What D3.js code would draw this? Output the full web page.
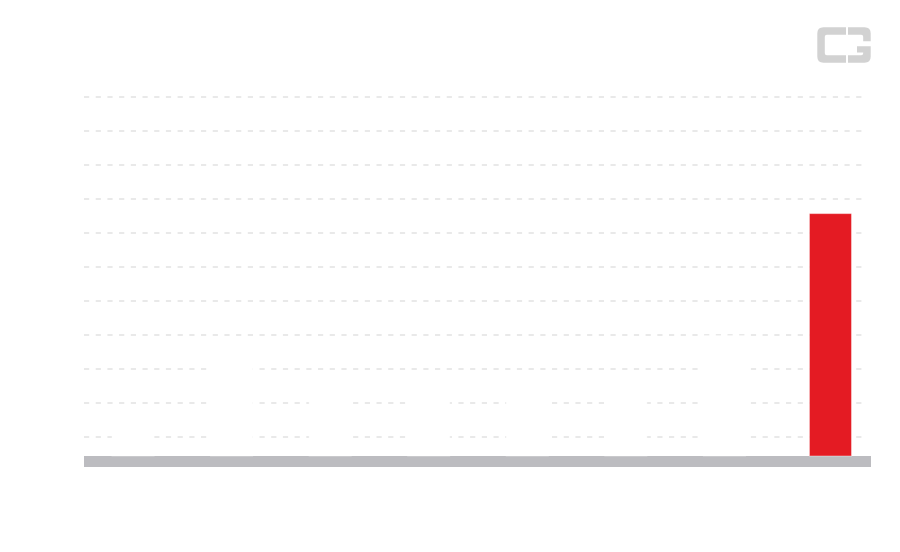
<!DOCTYPE html>
<html>
<head>
<meta charset="utf-8">
<script src="https://cdn.jsdelivr.net/npm/d3@7"></script>
<style>
  body { margin: 0; background: #fff; }
</style>
</head>
<body>
<div id="chart"></div>
<script>
// categories and values (chart has no labels, only the bars)
const categories = ['c1', 'c2', 'c3', 'c4', 'c5', 'c6', 'c7', 'c8']
const values = [1.5, 3.5, 2.5, 2.4, 2.6, 2.5, 3.98, 7.57]
const highlight = 'c8'
const gridTicks = [1, 2, 3, 4, 5, 6, 7, 8, 9, 10, 11]

const W = 900, H = 552
const svg = d3.select('#chart').append('svg')
    .attr('width', W)
    .attr('height', H)

const x = d3.scaleBand()
    .domain(categories)
    .range([84, 872])
    .paddingInner(0.5736)
    .paddingOuter(0.2843)

const y = d3.scaleLinear()
    .domain([0, 11])
    .range([471, 97])

// dashed grid
svg.append('g')
    .selectAll('line').data(gridTicks)
    .enter()
    .append('line')
    .attr('x1', 84)
    .attr('x2', 867)
    .attr('y1', d => y(d))
    .attr('y2', d => y(d))
    .attr('stroke', '#e2e2e2')
    .attr('stroke-width', 1.4)
    .attr('stroke-dasharray', '5.2,6.5')

// thick grey base band
const baseTop = y(0) - 15
svg.append('rect')
    .attr('x', 84)
    .attr('y', baseTop)
    .attr('width', 871 - 84)
    .attr('height', 11)
    .attr('fill', '#bcbcc0')

const data = categories.map((c, i) => ({ cat: c, value: values[i] }))

svg.append('g')
    .selectAll('rect').data(data)
    .enter()
    .append('rect')
    .attr('x', d => x(d.cat) + (d.cat === highlight ? 7.5 : 0))
    .attr('y', d => y(d.value))
    .attr('width', x.bandwidth())
    .attr('height', d => baseTop - y(d.value))
    .attr('fill', d => d.cat === highlight ? '#e41b23' : '#ffffff')
    .attr('stroke', 'rgba(255,255,255,0.4)')
    .attr('stroke-width', 1)

// logo in the corner
const logo = svg.append('g')
    .attr('transform', 'translate(817.3,27.3)')
    .attr('fill', '#d2d2d2')
logo.append('path')
    .attr('d', 'M28.7,0 H6.2 Q0,0 0,6.2 V29.2 Q0,35.4 6.2,35.4 H28.7 V27.9 H9.5 Q7.5,27.9 7.5,25.9 V9.5 Q7.5,7.5 9.5,7.5 H28.7 Z')
logo.append('path')
    .attr('d', 'M30.7,0 H47.2 Q53.4,0 53.4,6.2 V14 H45.9 V9.5 Q45.9,7.5 43.9,7.5 H30.7 Z')
logo.append('path')
    .attr('d', 'M39.7,19 H53.4 V29.2 Q53.4,35.4 47.2,35.4 H30.7 V27.9 H43.9 Q45.9,27.9 45.9,25.9 V25.2 H39.7 Z')
</script>
</body>
</html>
